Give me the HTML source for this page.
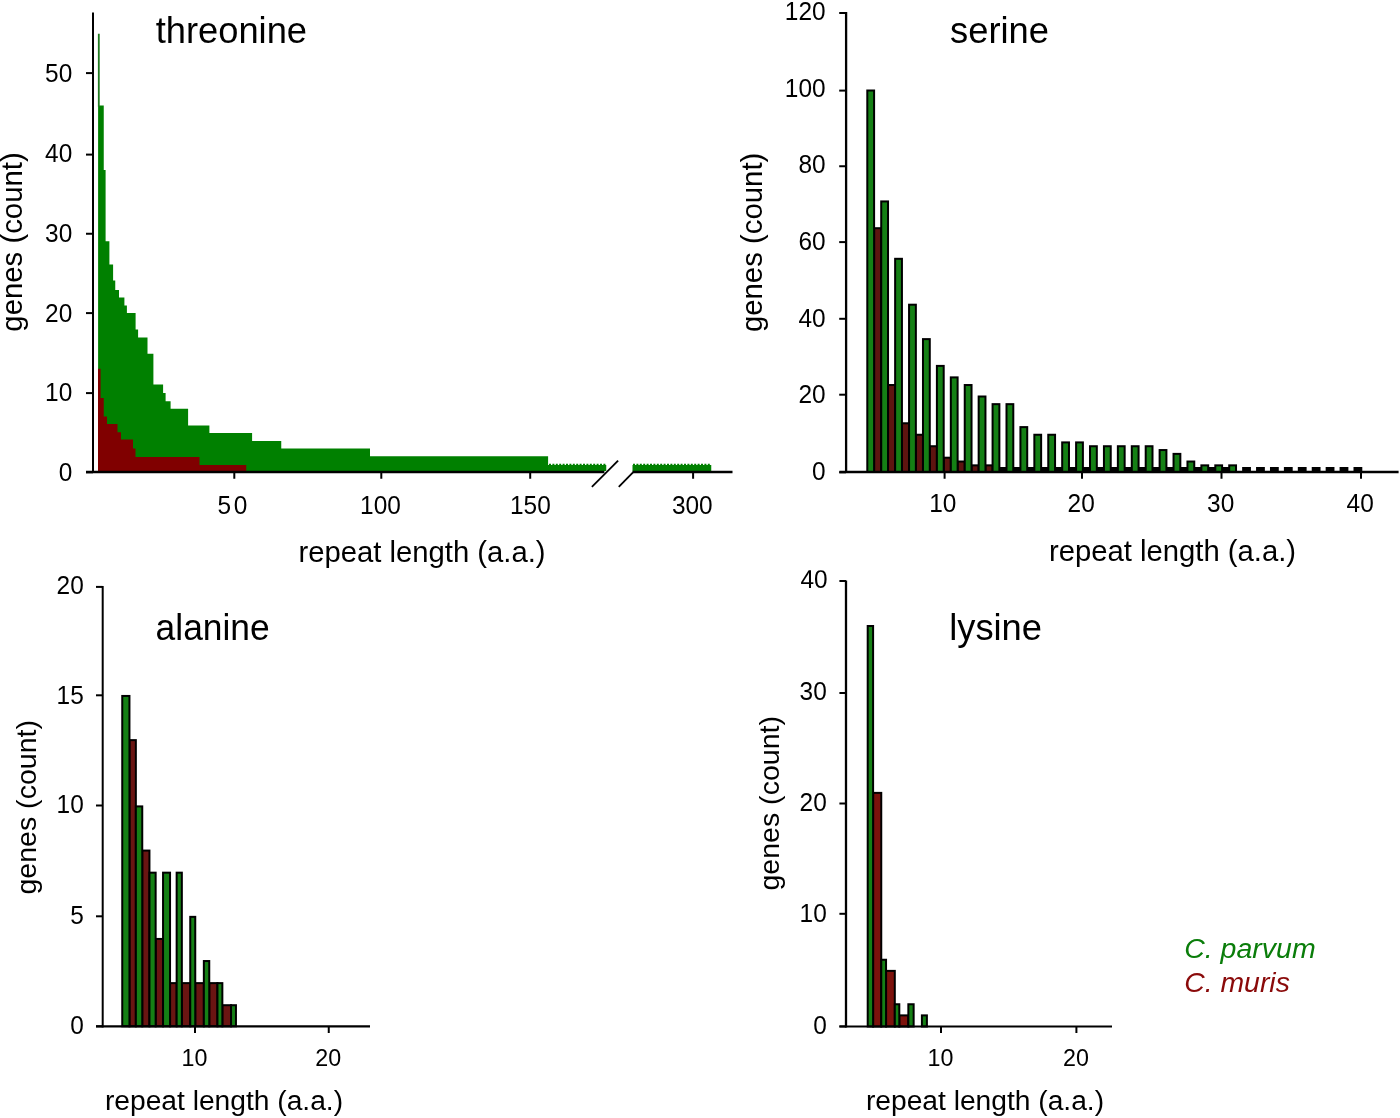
<!DOCTYPE html>
<html><head><meta charset="utf-8"><title>Amino acid repeat lengths</title>
<style>
html,body{margin:0;padding:0;background:#fff;}
body{width:1400px;height:1118px;overflow:hidden;}
svg{display:block;font-family:"Liberation Sans",Arial,sans-serif;}
</style></head><body>
<svg width="1400" height="1118" viewBox="0 0 1400 1118">
<rect width="1400" height="1118" fill="#fff"/>
<polygon fill="#008000" points="98.1,471 98.1,105.6 103.75,105.6 103.75,170 105.6,170 105.6,241.25 109.4,241.25 109.4,264.4 113.1,264.4 113.1,280.6 115.25,280.6 115.25,290 119,290 119,297.5 124.4,297.5 124.4,305.6 126.9,305.6 126.9,313.1 135.6,313.1 135.6,329.4 138.1,329.4 138.1,337.5 147.5,337.5 147.5,353.75 153.4,353.75 153.4,384.4 163.1,384.4 163.1,393.1 165.6,393.1 165.6,401.25 170.6,401.25 170.6,408.75 188.1,408.75 188.1,425.6 209.4,425.6 209.4,433.1 252.1,433.1 252.1,441 281.25,441 281.25,448.5 370,448.5 370,456.2 548.1,456.2 548.1,465 606.25,465 606.25,471"/>
<rect x="632.50" y="465.00" width="78.75" height="6.50" fill="#008000"/>
<rect x="97.90" y="33.75" width="1.80" height="73.00" fill="#1f7a1f"/>
<path d="M549,464.6H606 M633,464.6H711" stroke="#008000" stroke-width="1.6" stroke-dasharray="2 1.4" fill="none"/>
<polygon fill="#800000" points="98,471 98,368.75 100.6,368.75 100.6,398 103.75,398 103.75,416.5 107,416.5 107,424 117.5,424 117.5,432.3 121,432.3 121,439.5 133,439.5 133,448.5 135.5,448.5 135.5,457 199.5,457 199.5,465 246.25,465 246.25,471"/>
<line x1="93.00" y1="12.50" x2="93.00" y2="473.00" stroke="#000" stroke-width="2"/>
<line x1="86.00" y1="472.00" x2="604.40" y2="472.00" stroke="#000" stroke-width="2.4"/>
<line x1="632.50" y1="472.00" x2="732.50" y2="472.00" stroke="#000" stroke-width="2.4"/>
<line x1="591.90" y1="486.90" x2="618.10" y2="460.60" stroke="#000" stroke-width="1.8"/>
<line x1="618.75" y1="486.90" x2="633.00" y2="472.30" stroke="#000" stroke-width="1.8"/>
<line x1="86.00" y1="73.10" x2="93.00" y2="73.10" stroke="#000" stroke-width="2"/>
<text transform="translate(72.30,82.00) scale(0.955,1)" font-size="25.6" text-anchor="end" fill="#000">50</text>
<line x1="86.00" y1="154.60" x2="93.00" y2="154.60" stroke="#000" stroke-width="2"/>
<text transform="translate(72.30,161.84) scale(0.955,1)" font-size="25.6" text-anchor="end" fill="#000">40</text>
<line x1="86.00" y1="233.75" x2="93.00" y2="233.75" stroke="#000" stroke-width="2"/>
<text transform="translate(72.30,241.68) scale(0.955,1)" font-size="25.6" text-anchor="end" fill="#000">30</text>
<line x1="86.00" y1="313.10" x2="93.00" y2="313.10" stroke="#000" stroke-width="2"/>
<text transform="translate(72.30,321.52) scale(0.955,1)" font-size="25.6" text-anchor="end" fill="#000">20</text>
<line x1="86.00" y1="393.10" x2="93.00" y2="393.10" stroke="#000" stroke-width="2"/>
<text transform="translate(72.30,401.36) scale(0.955,1)" font-size="25.6" text-anchor="end" fill="#000">10</text>
<line x1="86.00" y1="472.30" x2="93.00" y2="472.30" stroke="#000" stroke-width="2"/>
<text transform="translate(72.30,481.20) scale(0.955,1)" font-size="25.6" text-anchor="end" fill="#000">0</text>
<line x1="234.30" y1="472.00" x2="234.30" y2="478.75" stroke="#000" stroke-width="2"/>
<text transform="translate(217.40,514.10) scale(0.955,1)" font-size="25.6" text-anchor="start" fill="#000" letter-spacing="2.8">50</text>
<line x1="381.30" y1="472.00" x2="381.30" y2="478.75" stroke="#000" stroke-width="2"/>
<text transform="translate(380.50,514.10) scale(0.955,1)" font-size="25.6" text-anchor="middle" fill="#000">100</text>
<line x1="530.20" y1="472.00" x2="530.20" y2="478.75" stroke="#000" stroke-width="2"/>
<text transform="translate(530.40,514.10) scale(0.955,1)" font-size="25.6" text-anchor="middle" fill="#000">150</text>
<line x1="693.10" y1="472.00" x2="693.10" y2="478.75" stroke="#000" stroke-width="2"/>
<text transform="translate(692.30,514.10) scale(0.955,1)" font-size="25.6" text-anchor="middle" fill="#000">300</text>
<text transform="translate(422.00,562.00)" font-size="29.25" text-anchor="middle" fill="#000">repeat length (a.a.)</text>
<text transform="translate(155.70,42.90)" font-size="36.3" text-anchor="start" fill="#000">threonine</text>
<text transform="translate(22.40,242.00) rotate(-90) scale(1.005,1)" font-size="29.2" text-anchor="middle" fill="#000">genes (count)</text>
<rect x="985.00" y="468.30" width="244.00" height="4.00" fill="#000"/>
<rect x="874.10" y="228.20" width="7.12" height="243.80" fill="#5e1410" stroke="#000" stroke-width="2.0"/>
<rect x="888.02" y="385.02" width="7.12" height="86.98" fill="#5e1410" stroke="#000" stroke-width="2.0"/>
<rect x="901.94" y="423.27" width="7.12" height="48.73" fill="#5e1410" stroke="#000" stroke-width="2.0"/>
<rect x="915.86" y="434.75" width="7.12" height="37.25" fill="#5e1410" stroke="#000" stroke-width="2.0"/>
<rect x="929.78" y="446.23" width="7.12" height="25.78" fill="#5e1410" stroke="#000" stroke-width="2.0"/>
<rect x="943.70" y="457.70" width="7.12" height="14.30" fill="#5e1410" stroke="#000" stroke-width="2.0"/>
<rect x="957.62" y="461.52" width="7.12" height="10.48" fill="#5e1410" stroke="#000" stroke-width="2.0"/>
<rect x="971.54" y="465.35" width="7.12" height="6.65" fill="#5e1410" stroke="#000" stroke-width="2.0"/>
<rect x="985.46" y="465.35" width="7.12" height="6.65" fill="#5e1410" stroke="#000" stroke-width="2.0"/>
<rect x="999.38" y="468.00" width="7.12" height="4.00" fill="#000" stroke="#000" stroke-width="2.0"/>
<rect x="1013.30" y="468.00" width="7.12" height="4.00" fill="#000" stroke="#000" stroke-width="2.0"/>
<rect x="1027.22" y="468.00" width="7.12" height="4.00" fill="#000" stroke="#000" stroke-width="2.0"/>
<rect x="1041.14" y="468.00" width="7.12" height="4.00" fill="#000" stroke="#000" stroke-width="2.0"/>
<rect x="1055.06" y="468.00" width="7.12" height="4.00" fill="#000" stroke="#000" stroke-width="2.0"/>
<rect x="1068.98" y="468.00" width="7.12" height="4.00" fill="#000" stroke="#000" stroke-width="2.0"/>
<rect x="1082.90" y="468.00" width="7.12" height="4.00" fill="#000" stroke="#000" stroke-width="2.0"/>
<rect x="1096.82" y="468.00" width="7.12" height="4.00" fill="#000" stroke="#000" stroke-width="2.0"/>
<rect x="1110.74" y="468.00" width="7.12" height="4.00" fill="#000" stroke="#000" stroke-width="2.0"/>
<rect x="1124.66" y="468.00" width="7.12" height="4.00" fill="#000" stroke="#000" stroke-width="2.0"/>
<rect x="1138.58" y="468.00" width="7.12" height="4.00" fill="#000" stroke="#000" stroke-width="2.0"/>
<rect x="1152.50" y="468.00" width="7.12" height="4.00" fill="#000" stroke="#000" stroke-width="2.0"/>
<rect x="1166.42" y="468.00" width="7.12" height="4.00" fill="#000" stroke="#000" stroke-width="2.0"/>
<rect x="1180.34" y="468.00" width="7.12" height="4.00" fill="#000" stroke="#000" stroke-width="2.0"/>
<rect x="1194.26" y="468.00" width="7.12" height="4.00" fill="#000" stroke="#000" stroke-width="2.0"/>
<rect x="1208.18" y="468.00" width="7.12" height="4.00" fill="#000" stroke="#000" stroke-width="2.0"/>
<rect x="1222.10" y="468.00" width="7.12" height="4.00" fill="#000" stroke="#000" stroke-width="2.0"/>
<rect x="867.30" y="90.50" width="6.80" height="381.50" fill="#158015" stroke="#000" stroke-width="2.0"/>
<rect x="881.22" y="201.43" width="6.80" height="270.57" fill="#158015" stroke="#000" stroke-width="2.0"/>
<rect x="895.14" y="258.80" width="6.80" height="213.20" fill="#158015" stroke="#000" stroke-width="2.0"/>
<rect x="909.06" y="304.70" width="6.80" height="167.30" fill="#158015" stroke="#000" stroke-width="2.0"/>
<rect x="922.98" y="339.12" width="6.80" height="132.88" fill="#158015" stroke="#000" stroke-width="2.0"/>
<rect x="936.90" y="365.90" width="6.80" height="106.10" fill="#158015" stroke="#000" stroke-width="2.0"/>
<rect x="950.82" y="377.38" width="6.80" height="94.62" fill="#158015" stroke="#000" stroke-width="2.0"/>
<rect x="964.74" y="385.02" width="6.80" height="86.98" fill="#158015" stroke="#000" stroke-width="2.0"/>
<rect x="978.66" y="396.50" width="6.80" height="75.50" fill="#158015" stroke="#000" stroke-width="2.0"/>
<rect x="992.58" y="404.15" width="6.80" height="67.85" fill="#158015" stroke="#000" stroke-width="2.0"/>
<rect x="1006.50" y="404.15" width="6.80" height="67.85" fill="#158015" stroke="#000" stroke-width="2.0"/>
<rect x="1020.42" y="427.10" width="6.80" height="44.90" fill="#158015" stroke="#000" stroke-width="2.0"/>
<rect x="1034.34" y="434.75" width="6.80" height="37.25" fill="#158015" stroke="#000" stroke-width="2.0"/>
<rect x="1048.26" y="434.75" width="6.80" height="37.25" fill="#158015" stroke="#000" stroke-width="2.0"/>
<rect x="1062.18" y="442.40" width="6.80" height="29.60" fill="#158015" stroke="#000" stroke-width="2.0"/>
<rect x="1076.10" y="442.40" width="6.80" height="29.60" fill="#158015" stroke="#000" stroke-width="2.0"/>
<rect x="1090.02" y="446.23" width="6.80" height="25.78" fill="#158015" stroke="#000" stroke-width="2.0"/>
<rect x="1103.94" y="446.23" width="6.80" height="25.78" fill="#158015" stroke="#000" stroke-width="2.0"/>
<rect x="1117.86" y="446.23" width="6.80" height="25.78" fill="#158015" stroke="#000" stroke-width="2.0"/>
<rect x="1131.78" y="446.23" width="6.80" height="25.78" fill="#158015" stroke="#000" stroke-width="2.0"/>
<rect x="1145.70" y="446.23" width="6.80" height="25.78" fill="#158015" stroke="#000" stroke-width="2.0"/>
<rect x="1159.62" y="450.05" width="6.80" height="21.95" fill="#158015" stroke="#000" stroke-width="2.0"/>
<rect x="1173.54" y="453.88" width="6.80" height="18.12" fill="#158015" stroke="#000" stroke-width="2.0"/>
<rect x="1187.46" y="461.52" width="6.80" height="10.48" fill="#158015" stroke="#000" stroke-width="2.0"/>
<rect x="1201.38" y="465.35" width="6.80" height="6.65" fill="#158015" stroke="#000" stroke-width="2.0"/>
<rect x="1215.30" y="465.35" width="6.80" height="6.65" fill="#158015" stroke="#000" stroke-width="2.0"/>
<rect x="1229.22" y="465.35" width="6.80" height="6.65" fill="#158015" stroke="#000" stroke-width="2.0"/>
<rect x="1243.14" y="468.00" width="6.80" height="4.00" fill="#000" stroke="#000" stroke-width="2.0"/>
<rect x="1257.06" y="468.00" width="6.80" height="4.00" fill="#000" stroke="#000" stroke-width="2.0"/>
<rect x="1270.98" y="468.00" width="6.80" height="4.00" fill="#000" stroke="#000" stroke-width="2.0"/>
<rect x="1284.90" y="468.00" width="6.80" height="4.00" fill="#000" stroke="#000" stroke-width="2.0"/>
<rect x="1298.82" y="468.00" width="6.80" height="4.00" fill="#000" stroke="#000" stroke-width="2.0"/>
<rect x="1312.74" y="468.00" width="6.80" height="4.00" fill="#000" stroke="#000" stroke-width="2.0"/>
<rect x="1326.66" y="468.00" width="6.80" height="4.00" fill="#000" stroke="#000" stroke-width="2.0"/>
<rect x="1340.58" y="468.00" width="6.80" height="4.00" fill="#000" stroke="#000" stroke-width="2.0"/>
<rect x="1354.50" y="468.00" width="6.80" height="4.00" fill="#000" stroke="#000" stroke-width="2.0"/>
<line x1="846.10" y1="12.00" x2="846.10" y2="473.00" stroke="#000" stroke-width="2.3"/>
<line x1="839.40" y1="472.00" x2="1398.60" y2="472.00" stroke="#000" stroke-width="2.4"/>
<line x1="839.20" y1="13.00" x2="846.00" y2="13.00" stroke="#000" stroke-width="2"/>
<text transform="translate(825.60,20.22) scale(0.955,1)" font-size="25.6" text-anchor="end" fill="#000">120</text>
<line x1="839.20" y1="90.60" x2="846.00" y2="90.60" stroke="#000" stroke-width="2"/>
<text transform="translate(825.60,96.80) scale(0.955,1)" font-size="25.6" text-anchor="end" fill="#000">100</text>
<line x1="839.20" y1="166.25" x2="846.00" y2="166.25" stroke="#000" stroke-width="2"/>
<text transform="translate(825.60,173.38) scale(0.955,1)" font-size="25.6" text-anchor="end" fill="#000">80</text>
<line x1="839.20" y1="242.10" x2="846.00" y2="242.10" stroke="#000" stroke-width="2"/>
<text transform="translate(825.60,249.96) scale(0.955,1)" font-size="25.6" text-anchor="end" fill="#000">60</text>
<line x1="839.20" y1="318.80" x2="846.00" y2="318.80" stroke="#000" stroke-width="2"/>
<text transform="translate(825.60,326.54) scale(0.955,1)" font-size="25.6" text-anchor="end" fill="#000">40</text>
<line x1="839.20" y1="394.70" x2="846.00" y2="394.70" stroke="#000" stroke-width="2"/>
<text transform="translate(825.60,403.12) scale(0.955,1)" font-size="25.6" text-anchor="end" fill="#000">20</text>
<line x1="839.20" y1="472.30" x2="846.00" y2="472.30" stroke="#000" stroke-width="2"/>
<text transform="translate(825.60,479.70) scale(0.955,1)" font-size="25.6" text-anchor="end" fill="#000">0</text>
<line x1="944.60" y1="472.00" x2="944.60" y2="478.75" stroke="#000" stroke-width="2"/>
<text transform="translate(942.80,511.90) scale(0.955,1)" font-size="25.6" text-anchor="middle" fill="#000">10</text>
<line x1="1082.00" y1="472.00" x2="1082.00" y2="478.75" stroke="#000" stroke-width="2"/>
<text transform="translate(1081.20,511.90) scale(0.955,1)" font-size="25.6" text-anchor="middle" fill="#000">20</text>
<line x1="1221.50" y1="472.00" x2="1221.50" y2="478.75" stroke="#000" stroke-width="2"/>
<text transform="translate(1220.70,511.90) scale(0.955,1)" font-size="25.6" text-anchor="middle" fill="#000">30</text>
<line x1="1361.00" y1="472.00" x2="1361.00" y2="478.75" stroke="#000" stroke-width="2"/>
<text transform="translate(1360.20,511.90) scale(0.955,1)" font-size="25.6" text-anchor="middle" fill="#000">40</text>
<text transform="translate(1172.50,561.00)" font-size="29.25" text-anchor="middle" fill="#000">repeat length (a.a.)</text>
<text transform="translate(950.10,43.00)" font-size="36.3" text-anchor="start" fill="#000">serine</text>
<text transform="translate(762.00,242.40) rotate(-90) scale(1.005,1)" font-size="29.2" text-anchor="middle" fill="#000">genes (count)</text>
<rect x="129.45" y="740.13" width="6.40" height="286.17" fill="#6a1512" stroke="#000" stroke-width="2.0"/>
<rect x="142.25" y="850.58" width="7.20" height="175.72" fill="#6a1512" stroke="#000" stroke-width="2.0"/>
<rect x="155.65" y="938.94" width="7.40" height="87.36" fill="#6a1512" stroke="#000" stroke-width="2.0"/>
<rect x="170.05" y="983.12" width="6.60" height="43.18" fill="#6a1512" stroke="#000" stroke-width="2.0"/>
<rect x="181.85" y="983.12" width="8.40" height="43.18" fill="#6a1512" stroke="#000" stroke-width="2.0"/>
<rect x="195.25" y="983.12" width="8.60" height="43.18" fill="#6a1512" stroke="#000" stroke-width="2.0"/>
<rect x="209.25" y="983.12" width="8.20" height="43.18" fill="#6a1512" stroke="#000" stroke-width="2.0"/>
<rect x="222.35" y="1005.21" width="8.70" height="21.09" fill="#6a1512" stroke="#000" stroke-width="2.0"/>
<rect x="122.25" y="695.95" width="7.20" height="330.35" fill="#158015" stroke="#000" stroke-width="2.0"/>
<rect x="135.85" y="806.40" width="6.40" height="219.90" fill="#158015" stroke="#000" stroke-width="2.0"/>
<rect x="149.45" y="872.67" width="6.20" height="153.63" fill="#158015" stroke="#000" stroke-width="2.0"/>
<rect x="163.05" y="872.67" width="7.00" height="153.63" fill="#158015" stroke="#000" stroke-width="2.0"/>
<rect x="176.65" y="872.67" width="5.20" height="153.63" fill="#158015" stroke="#000" stroke-width="2.0"/>
<rect x="190.25" y="916.85" width="5.00" height="109.45" fill="#158015" stroke="#000" stroke-width="2.0"/>
<rect x="203.85" y="961.03" width="5.40" height="65.27" fill="#158015" stroke="#000" stroke-width="2.0"/>
<rect x="217.45" y="983.12" width="4.90" height="43.18" fill="#158015" stroke="#000" stroke-width="2.0"/>
<rect x="231.05" y="1005.21" width="4.90" height="21.09" fill="#158015" stroke="#000" stroke-width="2.0"/>
<line x1="102.70" y1="586.00" x2="102.70" y2="1027.40" stroke="#000" stroke-width="2"/>
<line x1="96.00" y1="1026.30" x2="370.00" y2="1026.30" stroke="#000" stroke-width="2.2"/>
<line x1="96.00" y1="586.90" x2="102.50" y2="586.90" stroke="#000" stroke-width="2"/>
<text transform="translate(83.80,593.65) scale(0.955,1)" font-size="25.6" text-anchor="end" fill="#000">20</text>
<line x1="96.00" y1="695.30" x2="102.50" y2="695.30" stroke="#000" stroke-width="2"/>
<text transform="translate(83.80,703.75) scale(0.955,1)" font-size="25.6" text-anchor="end" fill="#000">15</text>
<line x1="96.00" y1="805.50" x2="102.50" y2="805.50" stroke="#000" stroke-width="2"/>
<text transform="translate(83.80,812.65) scale(0.955,1)" font-size="25.6" text-anchor="end" fill="#000">10</text>
<line x1="96.00" y1="916.30" x2="102.50" y2="916.30" stroke="#000" stroke-width="2"/>
<text transform="translate(83.80,923.85) scale(0.955,1)" font-size="25.6" text-anchor="end" fill="#000">5</text>
<line x1="96.00" y1="1026.30" x2="102.50" y2="1026.30" stroke="#000" stroke-width="2"/>
<text transform="translate(83.80,1033.65) scale(0.955,1)" font-size="25.6" text-anchor="end" fill="#000">0</text>
<line x1="195.00" y1="1026.00" x2="195.00" y2="1033.00" stroke="#000" stroke-width="2"/>
<text transform="translate(194.50,1066.30) scale(0.955,1)" font-size="24.4" text-anchor="middle" fill="#000">10</text>
<line x1="328.75" y1="1026.00" x2="328.75" y2="1033.00" stroke="#000" stroke-width="2"/>
<text transform="translate(328.25,1066.30) scale(0.955,1)" font-size="24.4" text-anchor="middle" fill="#000">20</text>
<text transform="translate(224.00,1110.00)" font-size="28.2" text-anchor="middle" fill="#000">repeat length (a.a.)</text>
<text transform="translate(155.60,639.80) scale(0.975,1)" font-size="36.3" text-anchor="start" fill="#000">alanine</text>
<text transform="translate(36.00,807.30) rotate(-90) scale(1.005,1)" font-size="28.4" text-anchor="middle" fill="#000">genes (count)</text>
<rect x="873.10" y="792.88" width="8.15" height="233.62" fill="#7c120c" stroke="#000" stroke-width="2.0"/>
<rect x="886.05" y="970.88" width="8.75" height="55.62" fill="#7c120c" stroke="#000" stroke-width="2.0"/>
<rect x="899.30" y="1015.38" width="9.05" height="11.12" fill="#7c120c" stroke="#000" stroke-width="2.0"/>
<rect x="867.70" y="626.00" width="5.40" height="400.50" fill="#158015" stroke="#000" stroke-width="2.0"/>
<rect x="881.25" y="959.75" width="4.80" height="66.75" fill="#158015" stroke="#000" stroke-width="2.0"/>
<rect x="894.80" y="1004.25" width="4.50" height="22.25" fill="#158015" stroke="#000" stroke-width="2.0"/>
<rect x="908.35" y="1004.25" width="5.30" height="22.25" fill="#158015" stroke="#000" stroke-width="2.0"/>
<rect x="921.90" y="1015.38" width="5.00" height="11.12" fill="#158015" stroke="#000" stroke-width="2.0"/>
<line x1="846.00" y1="580.50" x2="846.00" y2="1027.60" stroke="#000" stroke-width="2.3"/>
<line x1="839.40" y1="1026.50" x2="1112.00" y2="1026.50" stroke="#000" stroke-width="2.2"/>
<clipPath id="c40"><rect x="780" y="570.3" width="60" height="40"/></clipPath>
<line x1="839.40" y1="581.00" x2="846.00" y2="581.00" stroke="#000" stroke-width="2"/>
<g clip-path="url(#c40)">
<text transform="translate(827.60,588.30) scale(0.955,1)" font-size="25.6" text-anchor="end" fill="#000">40</text>
</g>
<line x1="839.40" y1="693.00" x2="846.00" y2="693.00" stroke="#000" stroke-width="2"/>
<text transform="translate(826.80,699.75) scale(0.955,1)" font-size="25.6" text-anchor="end" fill="#000">30</text>
<line x1="839.40" y1="803.50" x2="846.00" y2="803.50" stroke="#000" stroke-width="2"/>
<text transform="translate(826.80,811.05) scale(0.955,1)" font-size="25.6" text-anchor="end" fill="#000">20</text>
<line x1="839.40" y1="913.80" x2="846.00" y2="913.80" stroke="#000" stroke-width="2"/>
<text transform="translate(826.80,922.35) scale(0.955,1)" font-size="25.6" text-anchor="end" fill="#000">10</text>
<line x1="839.40" y1="1026.40" x2="846.00" y2="1026.40" stroke="#000" stroke-width="2"/>
<text transform="translate(826.80,1033.65) scale(0.955,1)" font-size="25.6" text-anchor="end" fill="#000">0</text>
<line x1="941.00" y1="1026.00" x2="941.00" y2="1033.00" stroke="#000" stroke-width="2"/>
<text transform="translate(940.50,1066.30) scale(0.955,1)" font-size="24.4" text-anchor="middle" fill="#000">10</text>
<line x1="1076.40" y1="1026.00" x2="1076.40" y2="1033.00" stroke="#000" stroke-width="2"/>
<text transform="translate(1075.90,1066.30) scale(0.955,1)" font-size="24.4" text-anchor="middle" fill="#000">20</text>
<text transform="translate(985.00,1110.00)" font-size="28.2" text-anchor="middle" fill="#000">repeat length (a.a.)</text>
<text transform="translate(949.20,640.00)" font-size="36.3" text-anchor="start" fill="#000">lysine</text>
<text transform="translate(778.90,803.30) rotate(-90) scale(1.005,1)" font-size="28.4" text-anchor="middle" fill="#000">genes (count)</text>
<text transform="translate(1184.20,958.20) scale(1.048,1)" font-size="27.2" text-anchor="start" fill="#0a7d0a" font-style="italic">C. parvum</text>
<text transform="translate(1184.20,991.80) scale(1.044,1)" font-size="27.2" text-anchor="start" fill="#8a0a0a" font-style="italic">C. muris</text>
</svg>
</body></html>
